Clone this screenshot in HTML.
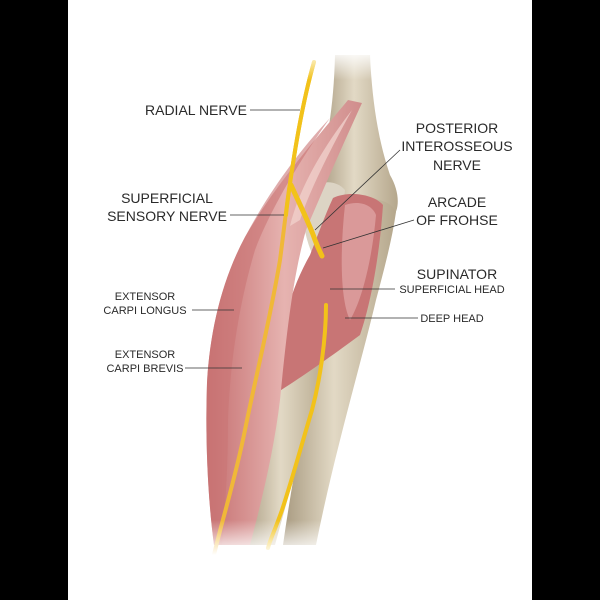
<!DOCTYPE html>
<html><head><meta charset="utf-8"><style>
html,body{margin:0;padding:0;background:#000;}
svg{display:block}
text{font-family:"Liberation Sans",sans-serif;fill:#2a2a2a;}
</style></head><body>
<svg width="600" height="600" viewBox="0 0 600 600" xmlns="http://www.w3.org/2000/svg">
<defs>
<linearGradient id="bone" x1="0" x2="1" y1="0" y2="0">
<stop offset="0" stop-color="#a89a80"/><stop offset="0.45" stop-color="#e2d9c5"/><stop offset="1" stop-color="#b5a78c"/>
</linearGradient>
<linearGradient id="musc" x1="0" x2="1" y1="0" y2="0">
<stop offset="0" stop-color="#c56f70"/><stop offset="0.5" stop-color="#e6b3b0"/><stop offset="1" stop-color="#d08d8c"/>
</linearGradient>
<linearGradient id="fadeb" x1="0" x2="0" y1="0" y2="1">
<stop offset="0" stop-color="#fff" stop-opacity="0"/><stop offset="1" stop-color="#fff" stop-opacity="1"/>
</linearGradient>
<linearGradient id="fadet" x1="0" x2="0" y1="0" y2="1">
<stop offset="0" stop-color="#fff" stop-opacity="1"/><stop offset="1" stop-color="#fff" stop-opacity="0"/>
</linearGradient>
</defs>
<rect x="0" y="0" width="600" height="600" fill="#000"/>
<rect x="68" y="0" width="464" height="600" fill="#fff"/>

<!-- humerus -->
<path d="M335,55 L370,55 C372,100 378,140 390,175 C400,192 400,210 392,218 L340,215 C322,205 315,185 320,170 C330,130 334,95 335,55Z" fill="url(#bone)"/>
<!-- ulna -->
<path d="M350,205 C365,195 390,198 396,212 C392,240 384,270 376,300 C362,360 335,450 316,545 L283,545 C295,460 312,380 325,320 C335,280 340,240 350,205Z" fill="url(#bone)"/>
<!-- radius -->
<path d="M298,320 C310,312 328,320 328,335 C318,400 295,470 275,545 L242,545 C258,470 280,390 298,320Z" fill="url(#bone)"/>
<!-- radial head region -->
<path d="M305,195 C315,180 335,178 345,190 L340,240 L315,260 C305,240 300,215 305,195Z" fill="#dcd4c4"/>

<!-- supinator -->
<path d="M333,198 C350,190 375,195 383,205 C380,250 372,300 360,335 C340,350 305,375 278,392 C275,340 290,290 310,255 C318,235 325,215 333,198Z" fill="#c87575"/>
<path d="M345,205 C360,200 372,205 376,215 C372,260 362,300 350,320 C340,300 340,250 345,205Z" fill="#dea3a2" opacity="0.8"/>

<!-- extensor muscles -->
<path d="M348,100 L362,103 C345,140 325,185 306,230 C292,280 286,340 280,400 C274,450 262,500 250,545 L214,545 C208,500 205,440 207,383 C210,330 222,280 245,237 C275,185 315,140 348,100Z" fill="url(#musc)"/>
<path d="M330,118 C300,160 270,210 255,250 C240,300 230,360 228,420 C228,470 225,510 222,545 L214,545 C208,500 205,440 207,383 C210,330 222,280 245,237 C270,190 300,150 330,118Z" fill="#c97475" opacity="0.6"/>
<path d="M352,110 C330,150 310,190 300,220 L290,226 C300,185 325,145 352,110Z" fill="#f0cfcb" opacity="0.8"/>

<!-- nerves -->
<g fill="none" stroke="#f2c21a" stroke-linecap="round">
<path d="M314,62 C306,90 298,130 292,170 C287,200 284,230 280,260 C270,320 255,380 245,430 C235,480 222,520 214,555" stroke-width="4" stroke="#f0b838"/>
<path d="M314,62 C306,90 298,130 292,170 C289,190 287,205 286,215" stroke-width="4"/>
<path d="M291,185 C300,205 310,225 315,240 C318,248 320,252 322,256" stroke-width="5"/>
<path d="M326,305 C326,340 320,380 312,410 C300,450 292,480 282,510 C275,530 270,540 268,548" stroke-width="4"/>
</g>

<!-- fades -->
<rect x="68" y="50" width="464" height="30" fill="url(#fadet)"/>
<rect x="68" y="520" width="464" height="35" fill="url(#fadeb)"/>
<rect x="68" y="555" width="464" height="45" fill="#fff"/>

<!-- leaders -->
<g stroke="#333" stroke-width="0.8" fill="none">
<line x1="250" y1="110" x2="300" y2="110"/>
<line x1="230" y1="215" x2="284" y2="215"/>
<line x1="400" y1="150" x2="315" y2="230"/>
<line x1="414" y1="220" x2="323" y2="248"/>
<line x1="395" y1="289" x2="330" y2="289"/>
<line x1="418" y1="318" x2="345" y2="318"/>
<line x1="192" y1="310" x2="234" y2="310"/>
<line x1="185" y1="368" x2="242" y2="368"/>
</g>

<!-- labels -->
<text x="145" y="115" font-size="14">RADIAL NERVE</text>
<text x="457" y="133" font-size="14" text-anchor="middle">POSTERIOR</text>
<text x="457" y="151" font-size="14" text-anchor="middle">INTEROSSEOUS</text>
<text x="457" y="170" font-size="14" text-anchor="middle">NERVE</text>
<text x="167" y="203" font-size="14" text-anchor="middle">SUPERFICIAL</text>
<text x="167" y="221" font-size="14" text-anchor="middle">SENSORY NERVE</text>
<text x="457" y="207" font-size="14" text-anchor="middle">ARCADE</text>
<text x="457" y="225" font-size="14" text-anchor="middle">OF FROHSE</text>
<text x="457" y="279" font-size="14" text-anchor="middle">SUPINATOR</text>
<text x="452" y="293" font-size="11" text-anchor="middle">SUPERFICIAL HEAD</text>
<text x="452" y="322" font-size="11" text-anchor="middle">DEEP HEAD</text>
<text x="145" y="300" font-size="11" text-anchor="middle">EXTENSOR</text>
<text x="145" y="314" font-size="11" text-anchor="middle">CARPI LONGUS</text>
<text x="145" y="358" font-size="11" text-anchor="middle">EXTENSOR</text>
<text x="145" y="372" font-size="11" text-anchor="middle">CARPI BREVIS</text>
</svg>
</body></html>
